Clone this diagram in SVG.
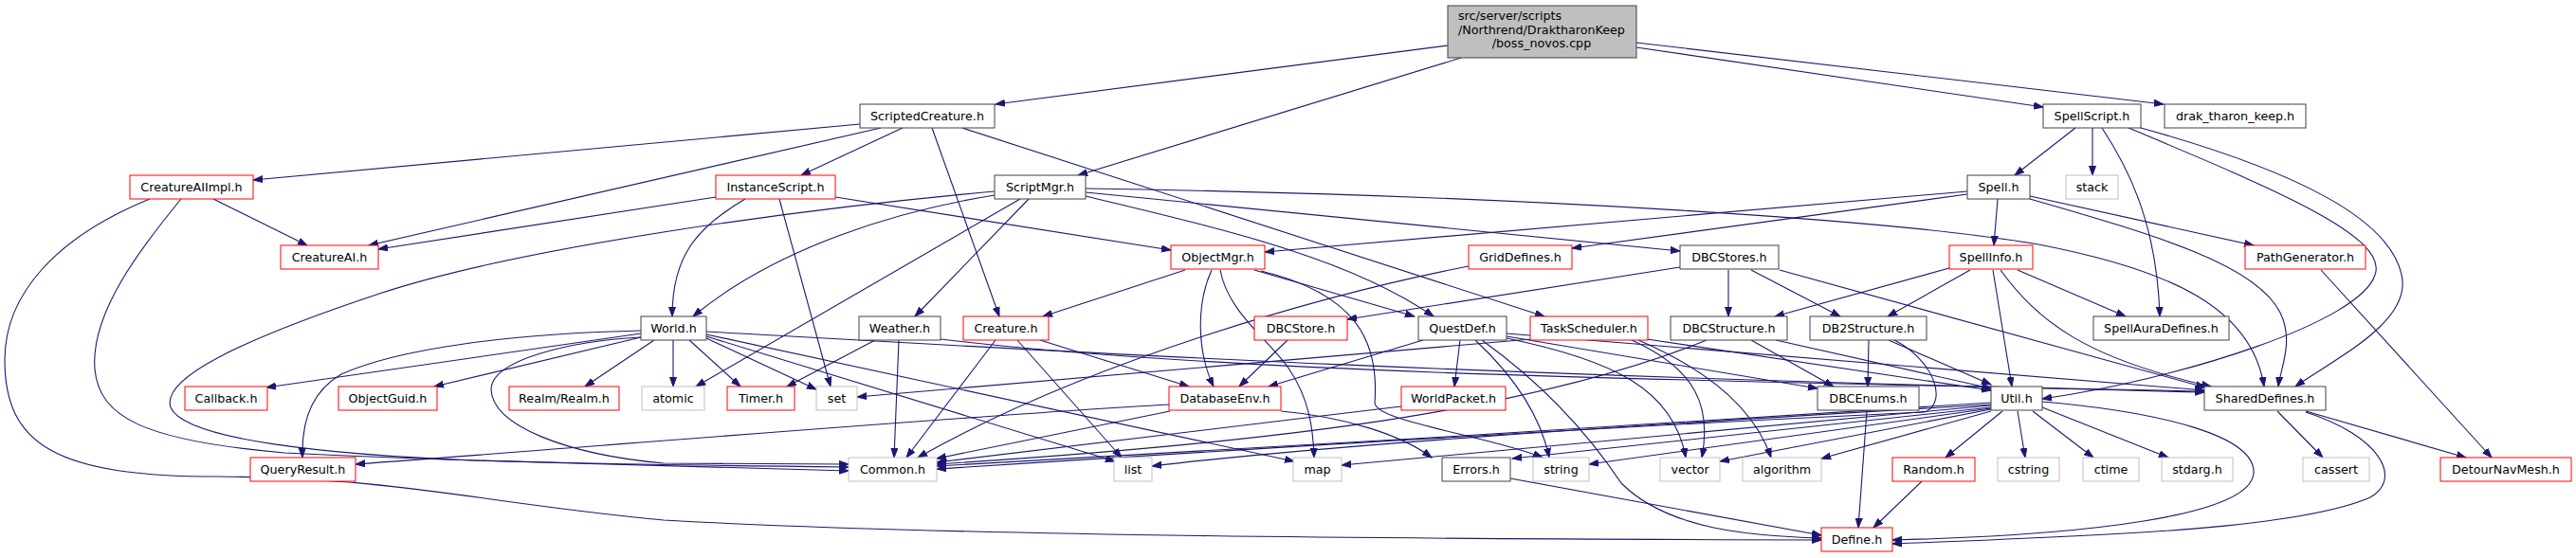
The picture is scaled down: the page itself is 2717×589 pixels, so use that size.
<svg xmlns="http://www.w3.org/2000/svg" width="2717" height="589" viewBox="0 0 2717 589">
<defs>
<style>
.n rect{fill:#fff;stroke-width:1}
.b rect{stroke:#404040}
.r rect{stroke:#ff0000}
.g rect{stroke:#bfbfbf}
.root rect{fill:#bfbfbf;stroke:#404040}
text{font-family:"DejaVu Sans","Liberation Sans",sans-serif;font-size:12.7px;fill:#000;text-anchor:middle}
#edges path{fill:none;stroke:#191970;stroke-width:1.1;marker-end:url(#a)}
</style>
<marker id="a" markerWidth="11" markerHeight="9" refX="10" refY="4" orient="auto" markerUnits="userSpaceOnUse">
<path d="M0,0.5 L10,4 L0,7.5 Z" fill="#191970" stroke="#191970" stroke-width="1"/>
</marker>
</defs>
<rect x="0" y="0" width="2717" height="589" fill="#fff"/>
<g id="edges">
<path d="M1527,48 L1050,110"/>
<path d="M1541,61 L1137,185"/>
<path d="M1726,50 L2155,113"/>
<path d="M1726,45 L2282,110"/>
<path d="M907,131 L267,190"/>
<path d="M929,135 L389,259"/>
<path d="M952,135 L845,185"/>
<path d="M983,135 L1054,334"/>
<path d="M1015,135 L1629,334"/>
<path d="M225,210 L324,259"/>
<path d="M191,210 C150,260 95,330 100,390 C105,440 150,465 300,478 C500,488 700,491 895,493"/>
<path d="M158,210 C60,250 5,310 5,380 C5,470 60,503 230,503 C430,505 500,530 700,549 C1000,566 1500,569 1921,570"/>
<path d="M755,208 L399,263"/>
<path d="M786,210 C735,240 709,270 709,334"/>
<path d="M822,210 L876,408"/>
<path d="M881,208 L1235,264"/>
<path d="M1049,202 C850,220 550,260 400,310 C250,360 170,400 180,430 C195,465 350,480 500,486 C700,492 800,494 895,497"/>
<path d="M1049,206 C950,222 820,260 731,334"/>
<path d="M1076,210 L734,408"/>
<path d="M1085,210 L965,334"/>
<path d="M1145,199 C1600,206 2000,232 2150,258 C2290,285 2375,325 2388,408"/>
<path d="M1145,203 L1772,265"/>
<path d="M1145,207 C1280,240 1420,270 1512,334"/>
<path d="M2075,202 L1334,266"/>
<path d="M2075,205 L1658,262"/>
<path d="M2107,210 L2103,259"/>
<path d="M2141,207 L2377,259"/>
<path d="M2141,210 C2280,250 2380,280 2405,330 C2420,360 2405,390 2403,408"/>
<path d="M2189,135 L2125,185"/>
<path d="M2207,135 L2207,185"/>
<path d="M2217,135 C2240,170 2275,230 2278,334"/>
<path d="M2245,135 C2400,200 2520,250 2505,290 C2490,340 2300,400 2154,421"/>
<path d="M2258,135 C2420,180 2520,230 2533,290 C2545,340 2460,380 2421,408"/>
<path d="M2448,285 L2628,483"/>
<path d="M2056,283 L1872,334"/>
<path d="M2078,285 L1991,334"/>
<path d="M2102,285 L2122,408"/>
<path d="M2110,285 C2150,340 2200,378 2332,408"/>
<path d="M2128,285 L2242,334"/>
<path d="M1549,281 C1400,310 1150,380 968,483"/>
<path d="M1772,282 L1421,337"/>
<path d="M1823,285 L1823,334"/>
<path d="M1847,285 L1941,334"/>
<path d="M1877,285 L2326,409"/>
<path d="M1358,359 L1307,408"/>
<path d="M1250,285 L1100,334"/>
<path d="M1278,285 C1262,320 1262,370 1280,408"/>
<path d="M1287,285 C1295,330 1340,360 1360,390 C1380,420 1385,450 1386,483"/>
<path d="M1323,285 L1492,334"/>
<path d="M1330,286 C1430,310 1455,360 1450,425 C1450,445 1570,460 1627,483"/>
<path d="M676,352 L281,409"/>
<path d="M676,356 L458,408"/>
<path d="M690,359 L617,408"/>
<path d="M710,359 L710,408"/>
<path d="M727,359 L781,408"/>
<path d="M745,357 L861,411"/>
<path d="M745,355 L1176,487"/>
<path d="M745,353 L1365,487"/>
<path d="M745,350 C1100,370 1500,395 2325,414"/>
<path d="M676,349 C540,352 420,368 360,395 C325,415 318,450 319,483"/>
<path d="M676,356 C600,360 520,380 518,410 C518,450 600,480 700,489 L895,490"/>
<path d="M948,359 L943,483"/>
<path d="M923,359 L830,408"/>
<path d="M992,358 C1300,395 1800,402 2325,413"/>
<path d="M1050,359 L956,483"/>
<path d="M1073,359 L1183,483"/>
<path d="M1097,359 L1254,408"/>
<path d="M1234,434 L988,484"/>
<path d="M1233,427 C1000,440 650,470 375,490"/>
<path d="M1351,434 C1420,440 1480,460 1510,483"/>
<path d="M1501,359 L1338,408"/>
<path d="M1540,359 L1534,408"/>
<path d="M1556,359 C1600,400 1625,440 1634,483"/>
<path d="M1563,359 C1620,400 1670,450 1710,510 C1760,560 1850,566 1921,568"/>
<path d="M1589,357 C1700,380 1765,410 1778,483"/>
<path d="M1589,355 L1917,410"/>
<path d="M1589,352 L2325,412"/>
<path d="M1615,358 L904,419"/>
<path d="M1721,359 C1790,390 1805,430 1795,483"/>
<path d="M1728,359 C1800,390 1850,430 1868,483"/>
<path d="M1737,358 L2100,412"/>
<path d="M1800,359 C1600,440 1300,470 988,490"/>
<path d="M1847,359 L1934,408"/>
<path d="M1873,359 L2100,410"/>
<path d="M1971,359 L1970,408"/>
<path d="M1992,359 L2100,406"/>
<path d="M1998,359 C2040,380 2055,425 2030,435 C1700,450 1300,475 988,495"/>
<path d="M1969,434 L1960,557"/>
<path d="M2027,508 L1976,557"/>
<path d="M1593,505 L1921,565"/>
<path d="M1478,429 C1300,450 1100,475 988,488"/>
<path d="M2100,425 C1800,445 1300,475 988,492"/>
<path d="M2100,427 C1700,450 1400,470 1215,492"/>
<path d="M2100,428 L1415,491"/>
<path d="M2100,430 L1595,484"/>
<path d="M2100,431 L1676,490"/>
<path d="M2100,432 L1814,487"/>
<path d="M2100,434 L1921,484"/>
<path d="M2112,434 L2052,483"/>
<path d="M2128,434 L2136,483"/>
<path d="M2144,434 L2208,483"/>
<path d="M2154,430 L2287,483"/>
<path d="M2154,424 C2280,435 2380,460 2377,500 C2372,545 2200,565 1996,570"/>
<path d="M2402,434 L2450,483"/>
<path d="M2432,434 L2601,483"/>
<path d="M2432,435 C2510,460 2535,505 2500,525 C2420,560 2200,566 1996,574"/>
</g>
<g id="n_root" class="n root"><rect x="1527" y="6" width="199" height="55"/><text x="1538" y="21" style="text-anchor:start">src/server/scripts</text><text x="1538" y="36" style="text-anchor:start">/Northrend/DraktharonKeep</text><text x="1626" y="50">/boss_novos.cpp</text></g>
<g id="n_ScriptedCreature" class="n b"><rect x="907" y="110" width="142" height="25"/><text x="978" y="127">ScriptedCreature.h</text></g>
<g id="n_SpellScript" class="n b"><rect x="2155" y="110" width="103" height="25"/><text x="2206.5" y="127">SpellScript.h</text></g>
<g id="n_drak_tharon_keep" class="n b"><rect x="2283" y="110" width="149" height="25"/><text x="2357.5" y="127">drak_tharon_keep.h</text></g>
<g id="n_CreatureAIImpl" class="n r"><rect x="137" y="185" width="130" height="25"/><text x="202" y="202">CreatureAIImpl.h</text></g>
<g id="n_InstanceScript" class="n r"><rect x="755" y="185" width="126" height="25"/><text x="818" y="202">InstanceScript.h</text></g>
<g id="n_ScriptMgr" class="n b"><rect x="1049" y="185" width="96" height="25"/><text x="1097" y="202">ScriptMgr.h</text></g>
<g id="n_Spell" class="n b"><rect x="2075" y="185" width="66" height="25"/><text x="2108" y="202">Spell.h</text></g>
<g id="n_stack" class="n g"><rect x="2179" y="185" width="55" height="25"/><text x="2206.5" y="202">stack</text></g>
<g id="n_CreatureAI" class="n r"><rect x="296" y="259" width="103" height="25"/><text x="347.5" y="276">CreatureAI.h</text></g>
<g id="n_ObjectMgr" class="n r"><rect x="1235" y="259" width="99" height="25"/><text x="1284.5" y="276">ObjectMgr.h</text></g>
<g id="n_GridDefines" class="n r"><rect x="1549" y="259" width="109" height="25"/><text x="1603.5" y="276">GridDefines.h</text></g>
<g id="n_DBCStores" class="n b"><rect x="1772" y="259" width="104" height="25"/><text x="1824" y="276">DBCStores.h</text></g>
<g id="n_SpellInfo" class="n r"><rect x="2056" y="259" width="88" height="25"/><text x="2100" y="276">SpellInfo.h</text></g>
<g id="n_PathGenerator" class="n r"><rect x="2368" y="259" width="127" height="25"/><text x="2431.5" y="276">PathGenerator.h</text></g>
<g id="n_World" class="n b"><rect x="676" y="334" width="69" height="25"/><text x="710.5" y="351">World.h</text></g>
<g id="n_Weather" class="n b"><rect x="906" y="334" width="86" height="25"/><text x="949" y="351">Weather.h</text></g>
<g id="n_Creature" class="n r"><rect x="1016" y="334" width="90" height="25"/><text x="1061" y="351">Creature.h</text></g>
<g id="n_DBCStore" class="n r"><rect x="1323" y="334" width="98" height="25"/><text x="1372" y="351">DBCStore.h</text></g>
<g id="n_QuestDef" class="n b"><rect x="1496" y="334" width="93" height="25"/><text x="1542.5" y="351">QuestDef.h</text></g>
<g id="n_TaskScheduler" class="n r"><rect x="1614" y="334" width="124" height="25"/><text x="1676" y="351">TaskScheduler.h</text></g>
<g id="n_DBCStructure" class="n b"><rect x="1762" y="334" width="123" height="25"/><text x="1823.5" y="351">DBCStructure.h</text></g>
<g id="n_DB2Structure" class="n b"><rect x="1909" y="334" width="123" height="25"/><text x="1970.5" y="351">DB2Structure.h</text></g>
<g id="n_SpellAuraDefines" class="n b"><rect x="2208" y="334" width="143" height="25"/><text x="2279.5" y="351">SpellAuraDefines.h</text></g>
<g id="n_Callback" class="n r"><rect x="195" y="408" width="87" height="25"/><text x="238.5" y="425">Callback.h</text></g>
<g id="n_ObjectGuid" class="n r"><rect x="357" y="408" width="104" height="25"/><text x="409" y="425">ObjectGuid.h</text></g>
<g id="n_Realm" class="n r"><rect x="537" y="408" width="116" height="25"/><text x="595" y="425">Realm/Realm.h</text></g>
<g id="n_atomic" class="n g"><rect x="677" y="408" width="66" height="25"/><text x="710" y="425">atomic</text></g>
<g id="n_Timer" class="n r"><rect x="767" y="408" width="71" height="25"/><text x="802.5" y="425">Timer.h</text></g>
<g id="n_set" class="n g"><rect x="861" y="408" width="43" height="25"/><text x="882.5" y="425">set</text></g>
<g id="n_DatabaseEnv" class="n r"><rect x="1233" y="408" width="118" height="25"/><text x="1292" y="425">DatabaseEnv.h</text></g>
<g id="n_WorldPacket" class="n r"><rect x="1478" y="408" width="110" height="25"/><text x="1533" y="425">WorldPacket.h</text></g>
<g id="n_DBCEnums" class="n b"><rect x="1917" y="408" width="107" height="25"/><text x="1970.5" y="425">DBCEnums.h</text></g>
<g id="n_Util" class="n b"><rect x="2100" y="408" width="54" height="25"/><text x="2127" y="425">Util.h</text></g>
<g id="n_SharedDefines" class="n b"><rect x="2325" y="408" width="128" height="25"/><text x="2389" y="425">SharedDefines.h</text></g>
<g id="n_QueryResult" class="n r"><rect x="264" y="483" width="111" height="25"/><text x="319.5" y="500">QueryResult.h</text></g>
<g id="n_Common" class="n g"><rect x="895" y="483" width="93" height="25"/><text x="941.5" y="500">Common.h</text></g>
<g id="n_list" class="n g"><rect x="1175" y="483" width="40" height="25"/><text x="1195" y="500">list</text></g>
<g id="n_map" class="n g"><rect x="1364" y="483" width="51" height="25"/><text x="1389.5" y="500">map</text></g>
<g id="n_Errors" class="n b"><rect x="1521" y="483" width="72" height="25"/><text x="1557" y="500">Errors.h</text></g>
<g id="n_string" class="n g"><rect x="1617" y="483" width="59" height="25"/><text x="1646.5" y="500">string</text></g>
<g id="n_vector" class="n g"><rect x="1751" y="483" width="63" height="25"/><text x="1782.5" y="500">vector</text></g>
<g id="n_algorithm" class="n g"><rect x="1838" y="483" width="83" height="25"/><text x="1879.5" y="500">algorithm</text></g>
<g id="n_Random" class="n r"><rect x="1996" y="483" width="87" height="25"/><text x="2039.5" y="500">Random.h</text></g>
<g id="n_cstring" class="n g"><rect x="2107" y="483" width="65" height="25"/><text x="2139.5" y="500">cstring</text></g>
<g id="n_ctime" class="n g"><rect x="2197" y="483" width="59" height="25"/><text x="2226.5" y="500">ctime</text></g>
<g id="n_stdarg" class="n g"><rect x="2280" y="483" width="75" height="25"/><text x="2317.5" y="500">stdarg.h</text></g>
<g id="n_cassert" class="n g"><rect x="2429" y="483" width="70" height="25"/><text x="2464" y="500">cassert</text></g>
<g id="n_DetourNavMesh" class="n r"><rect x="2574" y="483" width="138" height="25"/><text x="2643" y="500">DetourNavMesh.h</text></g>
<g id="n_Define" class="n r"><rect x="1921" y="557" width="75" height="25"/><text x="1958.5" y="574">Define.h</text></g>
</svg>
